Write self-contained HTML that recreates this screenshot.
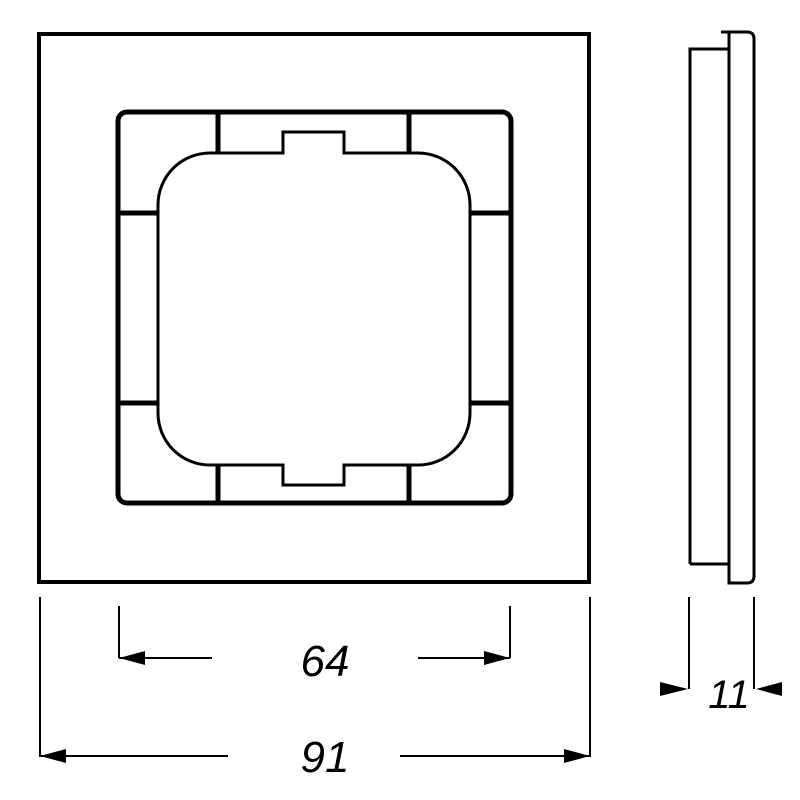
<!DOCTYPE html>
<html><head><style>body{margin:0;background:#fff}svg{display:block}</style></head><body>
<svg width="800" height="800" viewBox="0 0 800 800" xmlns="http://www.w3.org/2000/svg">
<g fill="none" stroke="#000" stroke-linejoin="miter">
<rect x="39" y="34" width="550" height="548" stroke-width="4"/>
<rect x="118" y="112" width="393" height="391" rx="9" stroke-width="5"/>
<path d="M210,153 H283 V132 H344 V153 H418 A52,52 0 0 1 470,205 V413 A52,52 0 0 1 418,465 H344 V485 H283 V465 H210 A52,52 0 0 1 158,413 V205 A52,52 0 0 1 210,153 Z" stroke-width="3"/>
<g stroke-width="5">
<line x1="218" y1="112" x2="218" y2="153"/><line x1="409" y1="112" x2="409" y2="153"/>
<line x1="218" y1="465" x2="218" y2="503"/><line x1="409" y1="465" x2="409" y2="503"/>
<line x1="118" y1="213" x2="158" y2="213"/><line x1="118" y1="403" x2="158" y2="403"/>
<line x1="470" y1="213" x2="511" y2="213"/><line x1="470" y1="403" x2="511" y2="403"/>
</g>
<g stroke-width="3">
<path d="M690,564 V49 H729"/>
<path d="M690,564 H729"/>
<path d="M721,32 H747 Q754,32 754,39 V576 Q754,583 747,583 H729 V32"/>
</g>
<g stroke-width="2">
<line x1="40" y1="597" x2="40" y2="757"/><line x1="590" y1="597" x2="590" y2="757"/>
<line x1="40" y1="756" x2="228" y2="756"/><line x1="400" y1="756" x2="590" y2="756"/>
<line x1="119" y1="606" x2="119" y2="658"/><line x1="510" y1="606" x2="510" y2="658"/>
<line x1="119" y1="658" x2="212" y2="658"/><line x1="418" y1="658" x2="510" y2="658"/>
<line x1="689" y1="597" x2="689" y2="689"/><line x1="754" y1="597" x2="754" y2="689"/>
</g>
</g>
<g fill="#000">
<path d="M40,756 L66,749 L66,763 Z"/><path d="M590,756 L564,749 L564,763 Z"/>
<path d="M119,658 L145,651 L145,665 Z"/><path d="M510,658 L484,651 L484,665 Z"/>
<path d="M688,689 L660,682 L660,696 Z"/><path d="M756,689 L782,682 L782,696 Z"/>
</g>
<g font-family="Liberation Sans, sans-serif" font-style="italic" font-size="44" fill="#000" text-anchor="middle">
<text x="325" y="676">64</text>
<text x="325" y="772">91</text>
<text x="729" y="708" font-size="40">11</text>
</g>
</svg>
</body></html>
